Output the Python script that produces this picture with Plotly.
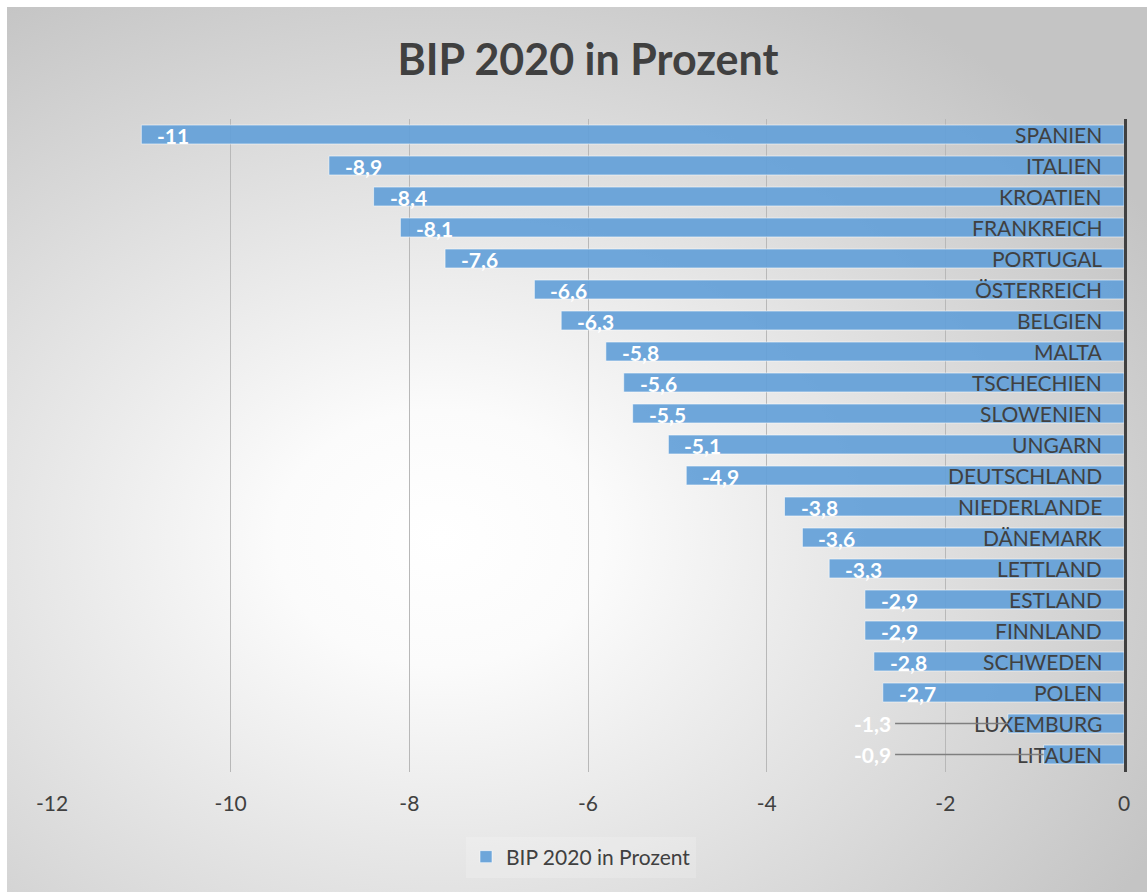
import base64
import plotly.graph_objects as go

categories = ["SPANIEN", "ITALIEN", "KROATIEN", "FRANKREICH", "PORTUGAL", "ÖSTERREICH",
              "BELGIEN", "MALTA", "TSCHECHIEN", "SLOWENIEN", "UNGARN", "DEUTSCHLAND",
              "NIEDERLANDE", "DÄNEMARK", "LETTLAND", "ESTLAND", "FINNLAND", "SCHWEDEN",
              "POLEN", "LUXEMBURG", "LITAUEN"]
values = [-11, -8.9, -8.4, -8.1, -7.6, -6.6, -6.3, -5.8, -5.6, -5.5, -5.1, -4.9,
          -3.8, -3.6, -3.3, -2.9, -2.9, -2.8, -2.7, -1.3, -0.9]
x_ticks = [-12, -10, -8, -6, -4, -2, 0]
series_name = "BIP 2020 in Prozent"
title_text = "BIP 2020 in Prozent"

FONT = "Lato"
W, H = 1147, 892
L, R, T, B = 52, 23, 119, 120

def fmt(v):
    s = ("%g" % v).replace(".", ",")
    return s

fig = go.Figure()
fig.add_trace(go.Bar(
    x=values, y=categories, orientation="h", name=series_name,
    marker=dict(color="rgba(100,160,216,0.93)", line=dict(color="rgba(255,255,255,0.55)", width=1)),
    hoverinfo="x+y",
))

annotations = []
# category labels drawn inside the plot, right-aligned next to the axis at x = 0
for c in categories:
    annotations.append(dict(x=0, y=c, xref="x", yref="y", text=c, showarrow=False,
                            xanchor="right", xshift=-20, yshift=0,
                            font=dict(family=FONT, size=21, color="#404040")))
for c, v in zip(categories, values):
    label = fmt(v)
    if v <= -2:
        annotations.append(dict(x=v, y=c, xref="x", yref="y", text=label, showarrow=False,
                                xanchor="left", xshift=14, yshift=-1,
                                font=dict(family=FONT, size=21, color="white", weight="bold")))
    else:
        annotations.append(dict(x=v, y=c, xref="x", yref="y", text=label, showarrow=True,
                                ax=-2.82, ay=c, axref="x", ayref="y", arrowhead=0,
                                arrowwidth=1.5, arrowcolor="#7f7f7f", standoff=0, borderpad=4,
                                font=dict(family=FONT, size=21, color="white", weight="bold")))

# radial gradient background as svg image
svg = ('<svg xmlns="http://www.w3.org/2000/svg" width="1140" height="885" viewBox="0 0 1140 885" '
       'preserveAspectRatio="none"><defs><radialGradient id="g" cx="0.38" cy="0.6" r="0.72">'
       '<stop offset="0" stop-color="#ffffff"/><stop offset="0.2" stop-color="#fbfbfb"/>'
       '<stop offset="1" stop-color="#c4c4c4"/></radialGradient></defs>'
       '<rect x="0" y="0" width="1140" height="885" fill="url(#g)"/></svg>')
src = "data:image/svg+xml;base64," + base64.b64encode(svg.encode()).decode()
pw = W - L - R
ph = H - T - B
x0 = (7 - L) / pw
y0 = (H - B - 7) / ph
sx = (W - 7) / pw
sy = (H - 7) / ph

fig.update_layout(
    width=W, height=H,
    margin=dict(l=L, r=R, t=T, b=B),
    paper_bgcolor="white", plot_bgcolor="rgba(0,0,0,0)",
    title=dict(text=title_text, x=0.5, xref="paper", y=1 - 60 / H, yanchor="middle",
               font=dict(family=FONT, size=43, color="#404040", weight="bold")),
    bargap=0.39,
    showlegend=True,
    legend=dict(orientation="h", x=0.5 - 7 / pw, xanchor="center", y=(H - B - 857) / ph,
                yanchor="middle",
                font=dict(family=FONT, size=21, color="#404040"),
                bgcolor="rgba(255,255,255,0.18)", itemwidth=30),
    annotations=annotations,
    images=[dict(source=src, xref="paper", yref="paper", x=x0, y=y0, sizex=sx, sizey=sy,
                 sizing="stretch", layer="below", xanchor="left", yanchor="top")],
    xaxis=dict(range=[-12, 0], tickvals=x_ticks, ticktext=[str(t) for t in x_ticks],
               showgrid=True, gridcolor="#b8b8b8", gridwidth=1, zeroline=False, showline=False,
               ticks="", ticklabelstandoff=17, ticklabeloverflow="allow",
               tickfont=dict(family=FONT, size=21, color="#404040")),
    yaxis=dict(categoryorder="array", categoryarray=categories, autorange="reversed",
               side="right", showticklabels=False,
               showline=True, linecolor="#404040", linewidth=3, showgrid=False, ticks=""),
)

fig.write_html("out.html")
